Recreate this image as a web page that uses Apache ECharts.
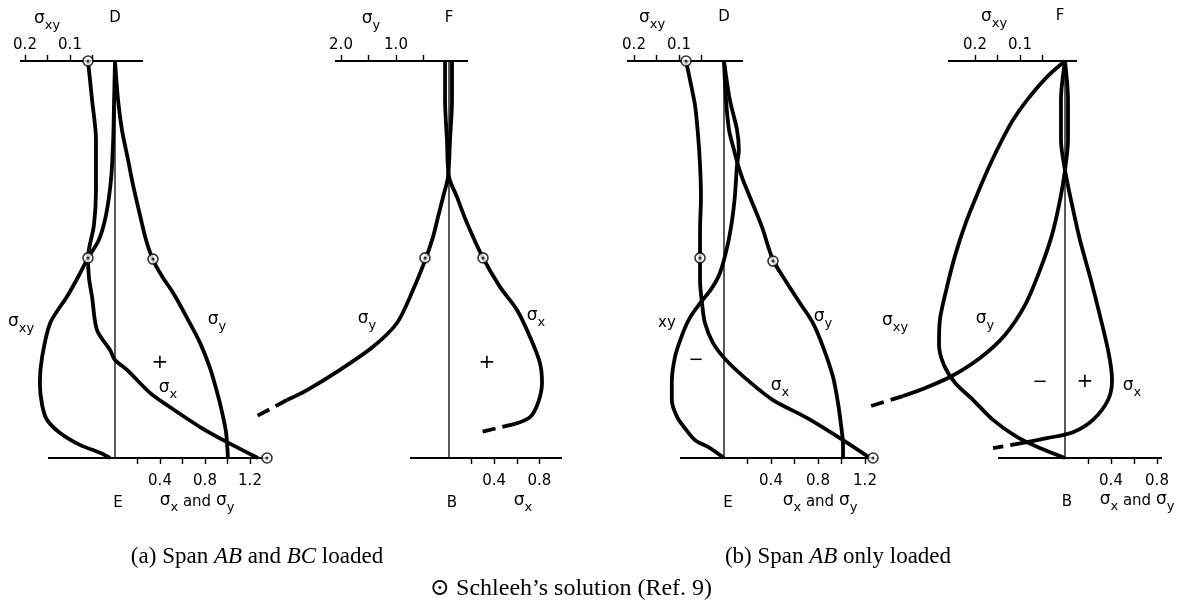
<!DOCTYPE html>
<html>
<head>
<meta charset="utf-8">
<script src="https://cdn.jsdelivr.net/npm/echarts@6.0.0/dist/echarts.min.js"></script>
<style>
  html, body { margin: 0; padding: 0; background: #fff; }
  #chart { width: 1179px; height: 609px; }
</style>
</head>
<body>
<div id="chart"></div>
<script>
// depth runs 0 (top axis D/F) -> 1 (bottom axis E/B)
// each point is [stress, depth]

// (a) span AB and BC loaded, section D-E
var aDE_sigmaX = [[-0.24, 0], [-0.204, 0.098], [-0.169, 0.199], [-0.169, 0.325], [-0.187, 0.413], [-0.24, 0.496],
  [-0.231, 0.547], [-0.204, 0.594], [-0.16, 0.678], [-0.044, 0.728], [0, 0.753], [0.107, 0.778], [0.311, 0.836],
  [0.489, 0.872], [0.756, 0.922], [0.996, 0.96], [1.271, 1.0]];
var aDE_sigmaY = [[0, 0], [0.027, 0.098], [0.062, 0.174], [0.116, 0.249], [0.16, 0.312], [0.222, 0.388], [0.276, 0.451],
  [0.338, 0.501], [0.418, 0.542], [0.516, 0.584], [0.64, 0.647], [0.756, 0.71], [0.844, 0.773], [0.907, 0.834],
  [0.951, 0.884], [0.987, 0.935], [1.004, 1.0]];
var aDE_sigmaXY = [[0, 0], [0.002, 0.098], [0.004, 0.199], [0.009, 0.3], [0.02, 0.388], [0.036, 0.451], [0.06, 0.496],
  [0.082, 0.544], [0.107, 0.594], [0.144, 0.66], [0.162, 0.746], [0.167, 0.811], [0.162, 0.866], [0.151, 0.904],
  [0.122, 0.937], [0.078, 0.967], [0.033, 0.987], [0.011, 1.0]];
var aDE_schleeh = [[-0.24, 0], [-0.24, 0.496], [0.338, 0.499], [1.351, 1.0]];

// (a) section F-B
var aFB_sigmaX = [[-0.035, 0], [-0.035, 0.098], [-0.018, 0.199], [0, 0.292], [0.071, 0.343], [0.159, 0.408], [0.301, 0.496],
  [0.451, 0.569], [0.602, 0.627], [0.717, 0.695], [0.805, 0.761], [0.823, 0.811], [0.788, 0.861], [0.717, 0.897], [0.584, 0.914]];
var aFB_sigmaXDash = [[0.584, 0.914], [0.274, 0.935]];
var aFB_sigmaY = [[-0.018, 0], [-0.018, 0.098], [0.018, 0.199], [0.055, 0.292], [0.145, 0.343], [0.236, 0.393], [0.327, 0.443],
  [0.455, 0.496], [0.691, 0.577], [0.982, 0.66], [1.418, 0.72], [2.018, 0.778], [2.618, 0.829], [2.982, 0.854]];
var aFB_sigmaYDash = [[2.982, 0.854], [3.564, 0.897]];
var aFB_schleehX = [[0.301, 0.496]];
var aFB_schleehY = [[0.473, 0.496]];

// (b) span AB only loaded, section D-E
var bDE_sigmaX = [[-0.323, 0], [-0.289, 0.048], [-0.247, 0.111], [-0.221, 0.186], [-0.204, 0.262], [-0.196, 0.343],
  [-0.204, 0.426], [-0.204, 0.496], [-0.204, 0.552], [-0.187, 0.61], [-0.162, 0.66], [-0.094, 0.71], [0.017, 0.753],
  [0.221, 0.809], [0.417, 0.854], [0.706, 0.899], [0.987, 0.95], [1.243, 1.0]];
var bDE_sigmaY = [[0, 0], [0.017, 0.098], [0.043, 0.174], [0.085, 0.224], [0.119, 0.262], [0.162, 0.3], [0.221, 0.343],
  [0.323, 0.418], [0.417, 0.501], [0.536, 0.559], [0.647, 0.61], [0.757, 0.66], [0.843, 0.72], [0.928, 0.796],
  [0.97, 0.861], [0.996, 0.917], [1.013, 0.967], [1.013, 1.0]];
var bDE_sigmaXY = [[0, 0], [-0.013, 0.098], [-0.029, 0.174], [-0.033, 0.224], [-0.029, 0.262], [-0.024, 0.343],
  [-0.018, 0.401], [-0.007, 0.469], [0.009, 0.534], [0.027, 0.572], [0.053, 0.61], [0.076, 0.647], [0.093, 0.69],
  [0.109, 0.746], [0.116, 0.811], [0.116, 0.854], [0.104, 0.897], [0.084, 0.929], [0.064, 0.955], [0.031, 0.975], [0, 1.0]];
var bDE_schleeh = [[-0.323, 0], [-0.204, 0.496], [0.417, 0.504], [1.268, 1.0]];

// (b) section F-B
var bFB_sigmaX = [[0, 0], [-0.035, 0.098], [-0.035, 0.199], [0, 0.275], [0.052, 0.35], [0.13, 0.451], [0.226, 0.552],
  [0.313, 0.652], [0.383, 0.741], [0.409, 0.804], [0.374, 0.854], [0.243, 0.904], [0.07, 0.935], [-0.157, 0.95], [-0.365, 0.962]];
var bFB_sigmaXDash = [[-0.365, 0.962], [-0.626, 0.975]];
var bFB_sigmaY = [[0, 0], [0.026, 0.098], [0.026, 0.199], [0, 0.275], [-0.043, 0.35], [-0.113, 0.438], [-0.217, 0.526],
  [-0.348, 0.615], [-0.522, 0.69], [-0.739, 0.748], [-1.0, 0.796], [-1.261, 0.829], [-1.409, 0.844]];
var bFB_sigmaYDash = [[-1.409, 0.844], [-1.687, 0.869]];
var bFB_sigmaXY = [[0, 0], [0.04, 0.04], [0.084, 0.098], [0.116, 0.149], [0.14, 0.199], [0.167, 0.262], [0.193, 0.33],
  [0.22, 0.406], [0.244, 0.489], [0.264, 0.577], [0.278, 0.652], [0.28, 0.715], [0.269, 0.766], [0.244, 0.811],
  [0.204, 0.854], [0.16, 0.904], [0.107, 0.947], [0.056, 0.975], [0, 1.0]];

// tick marks / labels
var ticksDE = [0.2, 0.4, 0.6, 0.8, 1.0, 1.2];
var labelsDE = [0.4, 0.8, 1.2];
var ticksFB = [0.2, 0.4, 0.6, 0.8];
var labelsFB = [0.4, 0.8];
var ticksXY = [0.05, 0.1, 0.15, 0.2];
var labelsXY = [0.1, 0.2];
var ticksSy = [0.5, 1.0, 1.5, 2.0];
var labelsSy = [1.0, 2.0];

// pixel layout of each panel: zero line, px per unit, drawn axis line extent, plot area extent
var TOP = 61, BOT = 458;
var panels = [
  { zero: 115, scale: 112.5, x0: 48, x1: 267, tZero: 115, tScale: 450, tx0: 20, tx1: 143, gx0: 0, gx1: 300, bt: ticksDE, bl: labelsDE, tt: ticksXY, tl: labelsXY },
  { zero: 449, scale: 113, x0: 410, x1: 562, tZero: 451, tScale: 55, tx0: 335, tx1: 468, gx0: 230, gx1: 600, bt: ticksFB, bl: labelsFB, tt: ticksSy, tl: labelsSy },
  { zero: 724, scale: 117.5, x0: 680, x1: 872, tZero: 724, tScale: 450, tx0: 627, tx1: 743, gx0: 600, gx1: 900, bt: ticksDE, bl: labelsDE, tt: ticksXY, tl: labelsXY },
  { zero: 1065, scale: 115, x0: 998, x1: 1162, tZero: 1065, tScale: 450, tx0: 948, tx1: 1077, gx0: 850, gx1: 1179, bt: ticksFB, bl: labelsFB, tt: ticksXY, tl: labelsXY }
];

var FONT = '"DejaVu Sans", sans-serif';
var SERIF = '"Liberation Serif", "DejaVu Serif", serif';
var INK = '#000';

var grids = [], xAxes = [], yAxes = [], series = [];
function fmt(v) { return v.toFixed(1); }

panels.forEach(function (p, i) {
  var b = 2 * i, t = 2 * i + 1;
  // bottom axis (sigma_x / sigma_y, positive to the right)
  grids.push({ left: p.gx0, width: p.gx1 - p.gx0, top: TOP, height: BOT - TOP, outerBoundsMode: 'none' });
  xAxes.push({
    gridIndex: b, type: 'value', position: 'bottom',
    min: (p.gx0 - p.zero) / p.scale, max: (p.gx1 - p.zero) / p.scale,
    axisLine: { show: false, onZero: false },
    axisTick: { customValues: p.bt, length: 6, lineStyle: { color: INK, width: 1.4 } },
    axisLabel: { customValues: p.bl, formatter: fmt, color: INK, fontSize: 15, fontFamily: FONT, margin: 16 },
    splitLine: { show: false }
  });
  yAxes.push({ gridIndex: b, type: 'value', min: 0, max: 1, inverse: true, show: false });
  // top axis (sigma_xy or sigma_y, positive to the left)
  grids.push({ left: p.gx0, width: p.gx1 - p.gx0, top: TOP, height: BOT - TOP, outerBoundsMode: 'none' });
  xAxes.push({
    gridIndex: t, type: 'value', position: 'top', inverse: true,
    min: (p.tZero - p.gx1) / p.tScale, max: (p.tZero - p.gx0) / p.tScale,
    axisLine: { show: false, onZero: false },
    axisTick: { customValues: p.tt, length: 6, lineStyle: { color: INK, width: 1.4 } },
    axisLabel: { customValues: p.tl, formatter: fmt, color: INK, fontSize: 15, fontFamily: FONT, margin: 8 },
    splitLine: { show: false }
  });
  yAxes.push({ gridIndex: t, type: 'value', min: 0, max: 1, inverse: true, show: false });

  // base lines of the two axes and the vertical zero line
  series.push(rule([[(p.x0 - p.zero) / p.scale, 1], [(p.x1 - p.zero) / p.scale, 1]], b, 1.8));
  series.push(rule([[(p.tZero - p.tx0) / p.tScale, 0], [(p.tZero - p.tx1) / p.tScale, 0]], t, 1.8));
  series.push(rule([[0, 0], [0, 1]], b, 1.3));
});

function rule(data, idx, w) {
  return { type: 'line', xAxisIndex: idx, yAxisIndex: idx, data: data, symbol: 'none', silent: true,
    lineStyle: { color: INK, width: w } };
}
function curve(data, idx, dashed) {
  return {
    type: 'line', xAxisIndex: idx, yAxisIndex: idx, data: data,
    smooth: 0.3, symbol: 'none', silent: true,
    lineStyle: { color: INK, width: 3.8, type: dashed ? [13, 7] : 'solid' }
  };
}
function marks(data, idx) {
  return [
    { type: 'scatter', xAxisIndex: idx, yAxisIndex: idx, data: data, symbol: 'circle', symbolSize: 10, z: 5,
      itemStyle: { color: '#fff', borderColor: INK, borderWidth: 1.6 } },
    { type: 'scatter', xAxisIndex: idx, yAxisIndex: idx, data: data, symbol: 'circle', symbolSize: 3, z: 6,
      itemStyle: { color: INK } }
  ];
}

series = series.concat([
  curve(aDE_sigmaX, 0), curve(aDE_sigmaY, 0), curve(aDE_sigmaXY, 1),
  curve(aFB_sigmaX, 2), curve(aFB_sigmaXDash, 2, true), curve(aFB_sigmaY, 3), curve(aFB_sigmaYDash, 3, true),
  curve(bDE_sigmaX, 4), curve(bDE_sigmaY, 4), curve(bDE_sigmaXY, 5),
  curve(bFB_sigmaX, 6), curve(bFB_sigmaXDash, 6, true), curve(bFB_sigmaY, 6), curve(bFB_sigmaYDash, 6, true), curve(bFB_sigmaXY, 7)
], marks(aDE_schleeh, 0), marks(aFB_schleehX, 2), marks(aFB_schleehY, 3), marks(bDE_schleeh, 4));

// text with sigma subscripts, laid out piece by piece
var ctx = document.createElement('canvas').getContext('2d');
function tw(s, size) { ctx.font = size + 'px ' + FONT; return ctx.measureText(s).width; }
var SIZE = { g: 17, s: 13, n: 15 };
var SHIFT = { g: -3, s: 4, n: -2 };
function label(cx, cy, parts) {
  var total = 0;
  parts.forEach(function (pt) { total += tw(pt[0], SIZE[pt[1]]); });
  var x = cx - total / 2, out = [];
  parts.forEach(function (pt) {
    out.push({ type: 'text', x: x, y: cy + SHIFT[pt[1]], silent: true,
      style: { text: pt[0], fill: INK, font: SIZE[pt[1]] + 'px ' + FONT, align: 'left', verticalAlign: 'middle' } });
    x += tw(pt[0], SIZE[pt[1]]);
  });
  return out;
}
function sig(cx, cy, sub) { return label(cx, cy, [['σ', 'g'], [sub, 's']]); }
function plain(cx, cy, s, size) {
  return [{ type: 'text', x: cx, y: cy, silent: true,
    style: { text: s, fill: INK, font: (size || 15) + 'px ' + FONT, align: 'center', verticalAlign: 'middle' } }];
}
function both(cx, cy) { return label(cx, cy, [['σ', 'g'], ['x', 's'], [' and ', 'n'], ['σ', 'g'], ['y', 's']]); }
var capRich = { i: { fontStyle: 'italic', fontSize: 23, fontFamily: SERIF, fill: INK } };
function cap(x, y, text, size) {
  return [{ type: 'text', x: x, y: y, silent: true,
    style: { text: text, rich: capRich, fill: INK, font: (size || 23) + 'px ' + SERIF, align: 'center', verticalAlign: 'middle' } }];
}

var graphics = [].concat(
  // (a) D-E
  sig(47, 22, 'xy'), plain(115, 18, 'D'), plain(118, 503, 'E'), both(197, 504),
  sig(21, 325, 'xy'), sig(217, 323, 'y'), plain(160, 363, '+', 20), sig(168, 391, 'x'),
  // (a) F-B
  sig(371, 22, 'y'), plain(449, 18, 'F'), plain(452, 503, 'B'), sig(523, 504, 'x'),
  sig(367, 322, 'y'), sig(536, 319, 'x'), plain(487, 363, '+', 20),
  // (b) D-E
  sig(652, 21, 'xy'), plain(724, 17, 'D'), plain(728, 503, 'E'), both(820, 504),
  plain(667, 323, 'xy'), plain(696, 360, '−', 18), sig(823, 320, 'y'), sig(780, 389, 'x'),
  // (b) F-B
  sig(994, 20, 'xy'), plain(1060, 16, 'F'), plain(1067, 502, 'B'), both(1137, 503),
  sig(895, 324, 'xy'), sig(985, 322, 'y'), plain(1040, 382, '−', 18), plain(1085, 382, '+', 20), sig(1132, 389, 'x'),
  // captions
  cap(257, 557, '(a) Span {i|AB} and {i|BC} loaded'),
  cap(838, 557, '(b) Span {i|AB} only loaded'),
  cap(571, 589, '⊙ Schleeh’s solution (Ref. 9)', 24)
);

var chart = echarts.init(document.getElementById('chart'), null, { renderer: 'canvas' });
chart.setOption({
  animation: false,
  backgroundColor: '#fff',
  grid: grids,
  xAxis: xAxes,
  yAxis: yAxes,
  series: series,
  graphic: graphics
});
</script>
</body>
</html>
